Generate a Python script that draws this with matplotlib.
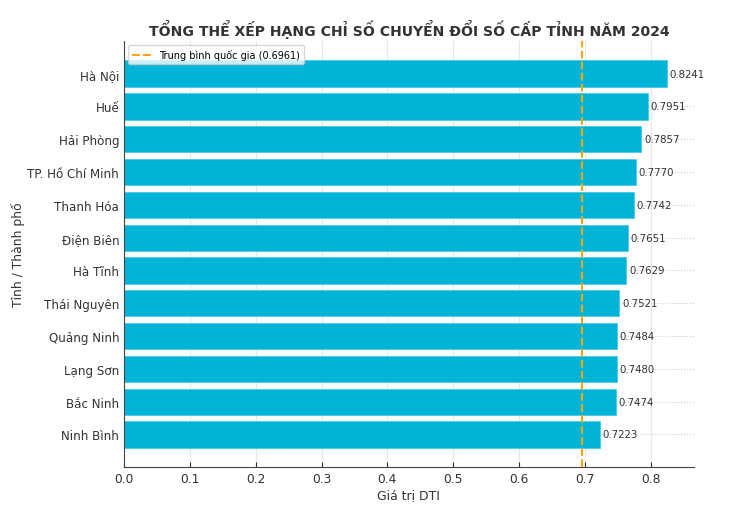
import matplotlib.pyplot as plt
import numpy as np

provinces = ['Hà Nội', 'Huế', 'Hải Phòng', 'TP. Hồ Chí Minh', 'Thanh Hóa', 'Điện Biên',
             'Hà Tĩnh', 'Thái Nguyên', 'Quảng Ninh', 'Lạng Sơn', 'Bắc Ninh', 'Ninh Bình']
dti = [0.8241, 0.7951, 0.7857, 0.7770, 0.7742, 0.7651,
       0.7629, 0.7521, 0.7484, 0.7480, 0.7474, 0.7223]
national_avg = 0.6961

fig = plt.figure(figsize=(7.4, 5.1), dpi=100)
ax = fig.add_axes([0.1676, 0.0824, 0.770, 0.835])

y = np.arange(len(provinces))
ax.barh(y, dti, height=0.8, color='#00B4D8', edgecolor='#48CAE4', linewidth=0.6, zorder=2)
ax.axvline(national_avg, color='orange', linestyle='--', linewidth=1.5, zorder=3,
           label=f'Trung bình quốc gia ({national_avg})')

for yi, v in zip(y, dti):
    ax.text(v + 0.004, yi, f'{v:.4f}', va='center', ha='left', fontsize=7.3, color='#333333', zorder=4)

ax.set_yticks(y)
ax.set_yticklabels(provinces, fontsize=8.6, color='#333333')
ax.invert_yaxis()
ax.set_xlim(0, 0.8653)
ax.tick_params(axis='both', direction='in', color='#444444')
ax.tick_params(axis='x', labelsize=8.8, colors='#333333')

ax.grid(axis='x', color='#e6e6e6', linewidth=0.8, zorder=0)
ax.grid(axis='y', color='#cccccc', linestyle=':', linewidth=0.8, zorder=0)
ax.set_axisbelow(True)

for s in ['top', 'right']:
    ax.spines[s].set_visible(False)
for s in ['left', 'bottom']:
    ax.spines[s].set_color('#444444')

ax.set_xlabel('Giá trị DTI', fontsize=8.9, color='#333333', labelpad=2)
ax.set_ylabel('Tỉnh / Thành phố', fontsize=8.9, color='#333333', labelpad=2)
fig.suptitle('TỔNG THỂ XẾP HẠNG CHỈ SỐ CHUYỂN ĐỔI SỐ CẤP TỈNH NĂM 2024',
             x=0.553, y=0.96, fontsize=10.1, fontweight='bold', color='#333333')

ax.legend(loc='upper left', fontsize=7.0, framealpha=0.8, borderaxespad=0.4)

fig.savefig('out.png', dpi=100)
